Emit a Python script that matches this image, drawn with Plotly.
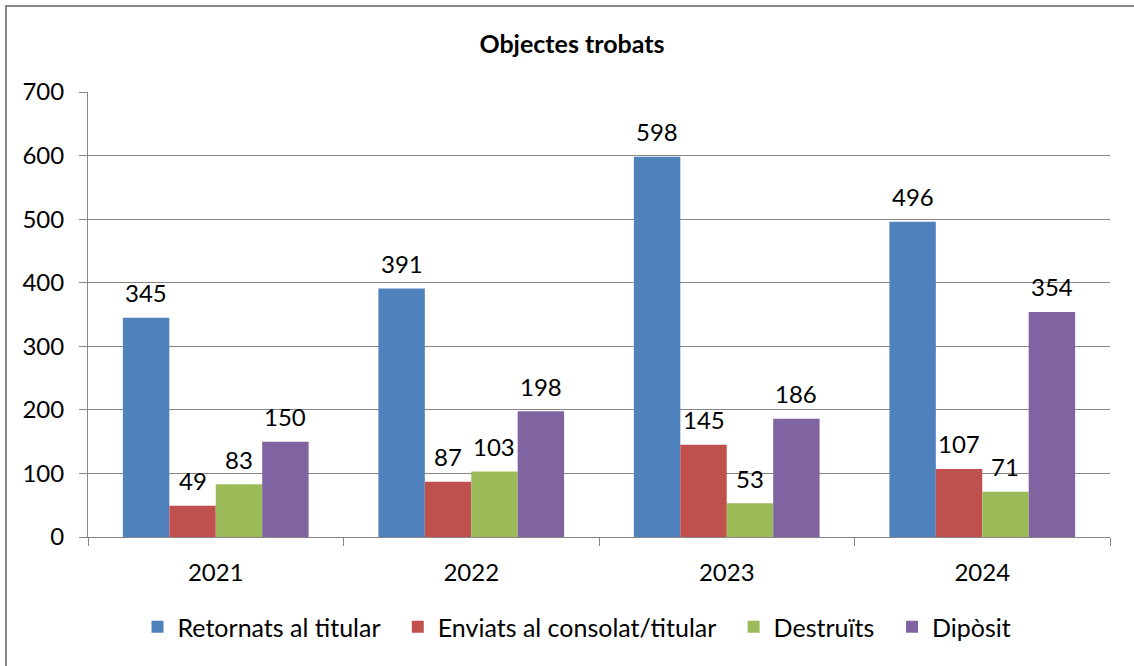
import plotly.graph_objects as go

years = ["2021", "2022", "2023", "2024"]
series_names = ["Retornats al titular", "Enviats al consolat/titular", "Destruïts", "Dipòsit"]
retornats = [345, 391, 598, 496]
enviats = [49, 87, 145, 107]
destruits = [83, 103, 53, 71]
diposit = [150, 198, 186, 354]
colors = ["#4F81BD", "#C0504D", "#9BBB59", "#8064A2"]
y_ticks = [0, 100, 200, 300, 400, 500, 600, 700]

FONT = "Lato, 'Open Sans', sans-serif"

W, H = 1134, 666
L, R, T, B = 88, 24, 92, 129
pw, ph = W - L - R, H - T - B
BARGAP = 0.273
n_series = 4
bar_px = pw / len(years) * (1 - BARGAP) / n_series

def px_x(p):
    return (p - L) / pw

def px_y(p):
    return (H - B - p) / ph

fig = go.Figure()
annotations = []
all_series = [retornats, enviats, destruits, diposit]
for si, (name, vals, col) in enumerate(zip(series_names, all_series, colors)):
    pad = "\u00a0" * 2 if si < n_series - 1 else ""
    fig.add_trace(go.Bar(
        x=years, y=vals, name=name + pad,
        marker=dict(color=col, line=dict(width=0)),
    ))
    off = (si - (n_series - 1) / 2) * bar_px
    for ci, v in enumerate(vals):
        annotations.append(dict(
            x=ci, y=v, xref="x", yref="y", text=str(v), showarrow=False,
            xshift=off, yshift=25, yanchor="middle", xanchor="center",
            font=dict(size=24, color="black", family=FONT),
        ))

fig.update_layout(
    width=W, height=H,
    margin=dict(l=L, r=R, t=T, b=B),
    paper_bgcolor="white", plot_bgcolor="white",
    barmode="group", bargap=BARGAP, bargroupgap=0,
    font=dict(family=FONT, size=23, color="black"),
    title=dict(text="<b>Objectes trobats</b>", x=572 / W, xref="container", xanchor="center",
               y=1 - 44 / H, yref="container", yanchor="middle",
               font=dict(size=25, color="black", family=FONT)),
    showlegend=True,
    legend=dict(orientation="h", x=px_x(577), xanchor="center",
                y=px_y(627), yanchor="middle", font=dict(size=25, family=FONT),
                tracegroupgap=0),
    xaxis=dict(type="category", range=[-0.5, len(years) - 0.5], showline=True,
               linecolor="#868686", linewidth=1,
               ticks="outside", tickson="boundaries", ticklen=8, tickcolor="#868686",
               showgrid=False, tickfont=dict(size=24, family=FONT), fixedrange=True,
               tickangle=0, automargin=False, ticklabelstandoff=14),
    yaxis=dict(range=[0, 700], tickvals=y_ticks, showline=True, linecolor="#868686", linewidth=1,
               ticks="outside", ticklen=8, tickcolor="#868686",
               showgrid=True, gridcolor="#868686", gridwidth=1,
               tickfont=dict(size=24, family=FONT), zeroline=False, fixedrange=True,
               automargin=False, ticklabelstandoff=10),
    annotations=annotations,
    shapes=[dict(type="rect", xref="paper", yref="paper",
                 x0=px_x(6), x1=px_x(1140), y0=px_y(672), y1=px_y(6),
                 line=dict(color="#868686", width=2), fillcolor="rgba(0,0,0,0)", layer="below")],
)

fig.write_html("out.html", config={"displayModeBar": False},
               post_script="document.body.style.margin='0';")
